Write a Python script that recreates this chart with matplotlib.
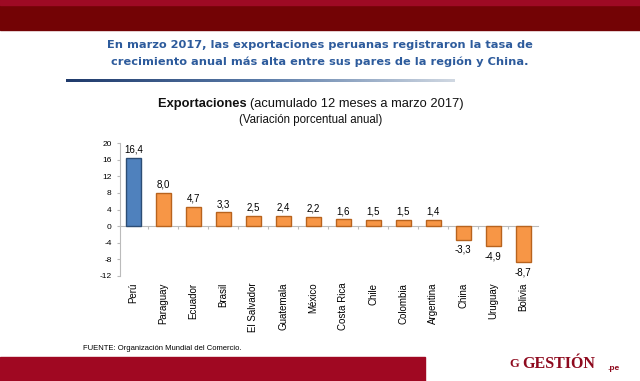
import numpy as np
import matplotlib.pyplot as plt
from matplotlib.colors import LinearSegmentedColormap
from matplotlib.transforms import blended_transform_factory

plt.rcParams["axes.unicode_minus"] = False
plt.rcParams["font.family"] = "Liberation Sans"

# data
paises = ["Perú", "Paraguay", "Ecuador", "Brasil", "El Salvador", "Guatemala", "México",
          "Costa Rica", "Chile", "Colombia", "Argentina", "China", "Uruguay", "Bolivia"]
variacion = [16.4, 8.0, 4.7, 3.3, 2.5, 2.4, 2.2, 1.6, 1.5, 1.5, 1.4, -3.3, -4.9, -8.7]
yticks = [-12, -8, -4, 0, 4, 8, 12, 16, 20]

fig = plt.figure(figsize=(6.4, 3.81), dpi=100)
fig.patch.set_facecolor("white")

# top band
fig.patches.append(plt.Rectangle((0, 1 - 30 / 381), 1, 30 / 381, transform=fig.transFigure,
                                 color="#730305", zorder=0))
fig.patches.append(plt.Rectangle((0, 1 - 5 / 381), 1, 5 / 381, transform=fig.transFigure,
                                 color="#9E0A24", zorder=0))
# bottom band
fig.patches.append(plt.Rectangle((0, 0), 425 / 640, 24 / 381, transform=fig.transFigure,
                                 color="#A00822", zorder=0))

# headline
fig.text(0.5, 1 - 53.5 / 381, "En marzo 2017, las exportaciones peruanas registraron la tasa de\n"
         "crecimiento anual más alta entre sus pares de la región y China.",
         ha="center", va="center", fontsize=8.2, fontweight="bold", color="#2D5B9C",
         linespacing=1.65, family="DejaVu Sans")

# gradient rule under the headline
gax = fig.add_axes([66 / 640, 1 - 82 / 381, 389 / 640, 3 / 381])
grad = np.linspace(0, 1, 256)[None, :]
cmap = LinearSegmentedColormap.from_list("g", ["#1F3A6B", "#5A7BA8", "#D0D8E2"])
gax.imshow(grad, aspect="auto", cmap=cmap)
gax.axis("off")

# chart title: bold part + regular part, centred together
fig.canvas.draw()
r = fig.canvas.get_renderer()
t1 = fig.text(0, 1 - 104 / 381, "Exportaciones ", ha="left", va="center", fontsize=9.3,
              fontweight="bold", color="#111111")
t2 = fig.text(0, 1 - 104 / 381, "(acumulado 12 meses a marzo 2017)", ha="left", va="center",
              fontsize=9.3, color="#111111")
w1 = t1.get_window_extent(r).width
w2 = t2.get_window_extent(r).width
x0 = 311 - (w1 + w2) / 2
t1.set_x(x0 / 640)
t2.set_x((x0 + w1) / 640)
fig.text(311 / 640, 1 - 120 / 381, "(Variación porcentual anual)", ha="center", va="center",
         fontsize=8.3, color="#111111")

ax = fig.add_axes([120 / 640, 1 - 276 / 381, 418 / 640, 133 / 381])
x = np.arange(len(paises))
colores = ["#4F81BD"] + ["#F79646"] * (len(paises) - 1)
bordes = ["#2C4D75"] + ["#B8631E"] * (len(paises) - 1)
ax.bar(x, variacion, width=0.5, color=colores, edgecolor=bordes, linewidth=1.0, zorder=3)

ax.set_xlim(-0.45, len(paises) - 0.5)
ax.set_ylim(-12, 20)
ax.set_yticks(yticks)
ax.tick_params(axis="y", labelsize=6, length=2, color="#BBBBBB", pad=4)
for s in ["top", "right"]:
    ax.spines[s].set_visible(False)
ax.spines["left"].set_color("#BBBBBB")
ax.spines["bottom"].set_position(("data", 0))
ax.spines["bottom"].set_color("#BBBBBB")
ax.set_xticks(x[:-1] + 0.5)
ax.set_xticklabels([])
ax.tick_params(axis="x", length=2, color="#BBBBBB", direction="out")

trans = blended_transform_factory(ax.transData, ax.transAxes)
for xi, p in zip(x, paises):
    ax.text(xi, -0.05, p, rotation=90, ha="center", va="top", fontsize=7, transform=trans)

for xi, v in zip(x, variacion):
    lab = f"{v:.1f}".replace(".", ",")
    if v >= 0:
        ax.text(xi, v + 0.8, lab, ha="center", va="bottom", fontsize=7)
    else:
        ax.text(xi, v - 1.2, lab, ha="center", va="top", fontsize=7)

# source
fig.text(83 / 640, 1 - 348 / 381, "FUENTE: Organización Mundial del Comercio.", fontsize=5.5,
         va="center")

# logo
fig.text(514 / 640, 1 - 364 / 381, "G", ha="center", va="center", fontsize=9,
         fontweight="bold", color="#8E0A1E", family="Liberation Serif")
fig.text(522 / 640, 1 - 364 / 381, "GESTIÓN", ha="left", va="center", fontsize=11.5,
         fontweight="bold", color="#8E0A1E", family="Liberation Serif")
fig.text(607 / 640, 1 - 368 / 381, ".pe", ha="left", va="center", fontsize=6,
         fontweight="bold", color="#8E0A1E")

fig.savefig("out.png", dpi=100)
